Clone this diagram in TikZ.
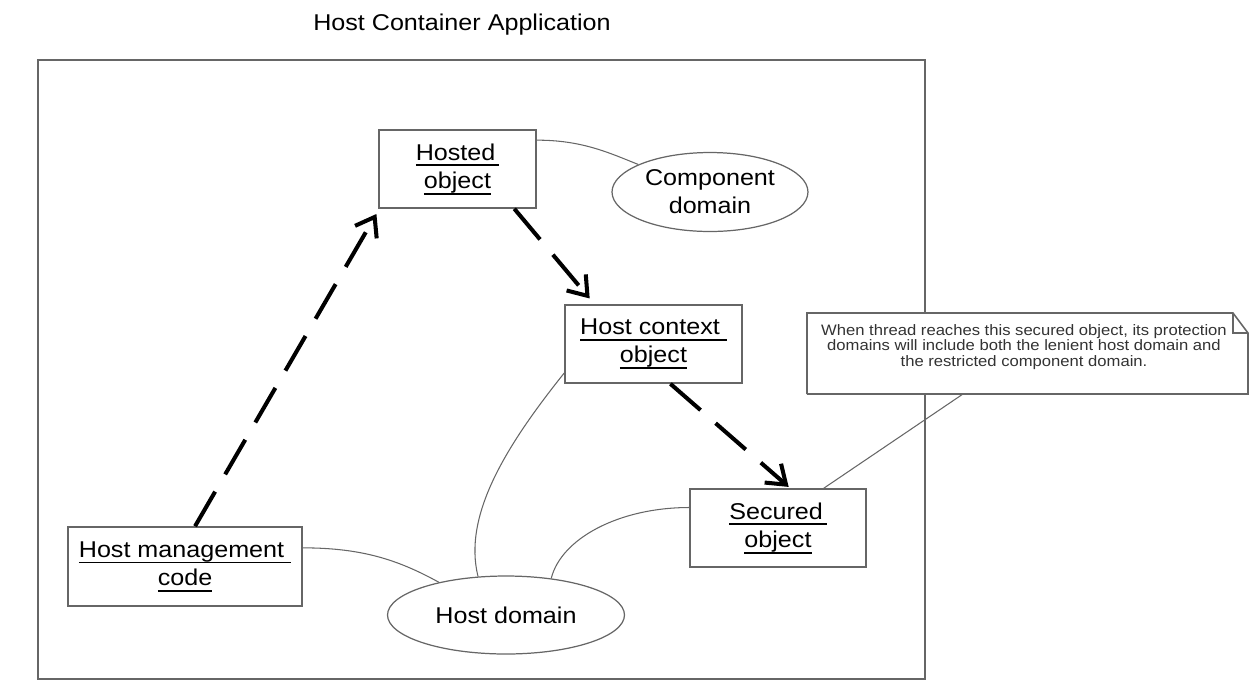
\documentclass[tikz,border=0pt]{standalone}
\usepackage{fontspec}
\setmainfont[FakeStretch=1.1]{Liberation Sans}
\usetikzlibrary{arrows.meta,shapes.geometric,calc}

\definecolor{linegray}{gray}{0.4}
\newsavebox{\ulbox}
\newcommand{\ulined}[1]{\sbox{\ulbox}{#1}\rlap{\rule[-3.6pt]{\wd\ulbox}{1.1pt}}\usebox{\ulbox}}

\tikzset{
  objbox/.style={draw=linegray, line width=0.9pt, fill=white, align=center, inner sep=0pt, font=\fontsize{13}{16}\selectfont},
  domainshape/.style={ellipse, draw=linegray, line width=0.7pt, fill=white, align=center, inner sep=0pt, font=\fontsize{13}{16}\selectfont},
  flow/.style={line width=2.3pt, dash pattern=on 0.8cm off 0.4cm, -{Straight Barb[length=0.35cm,width=0.5cm]}},
  link/.style={draw=linegray, line width=0.6pt}
}

\begin{document}
\begin{tikzpicture}[x=0.02cm,y=-0.02cm]
\useasboundingbox (0,0) rectangle (1249,681);

\node [anchor=base, font=\fontsize{13}{16}\selectfont] (title) at (462,30) {Host Container Application};
\draw[linegray, line width=0.9pt] (38,60) rectangle (925,679);

% objects
\node [objbox, minimum width=3.14cm, minimum height=1.56cm] (hosted) at (457.5,169) {\ulined{Hosted\,}\\\ulined{object}};
\node [objbox, minimum width=3.54cm, minimum height=1.56cm] (context) at (653.5,344) {\ulined{Host context\ }\\\ulined{object}};
\node [objbox, minimum width=4.68cm, minimum height=1.58cm] (mgmt) at (185,566.5) {\ulined{Host management\ }\\\ulined{code}};
\node [objbox, minimum width=3.52cm, minimum height=1.56cm] (secured) at (778,528) {\ulined{Secured\,}\\\ulined{object}};

% domains
\node [domainshape, minimum width=3.92cm, minimum height=1.58cm] (compdom) at (710,192) {Component\\domain};
\node [domainshape, minimum width=4.74cm, minimum height=1.56cm] (hostdom) at (506,615) {Host domain};

% note
\coordinate (nsw) at (807,394);
\coordinate (nne) at (1248,313);
\coordinate (ntail) at (963,394);
\draw[linegray, line width=0.9pt, fill=white] (nsw) |- ($(nne)+(-15,0)$) -- ($(nne)+(0,20)$) |- (nsw);
\draw[linegray, line width=0.6pt] ($(nne)+(-15,0)$) |- ($(nne)+(0,20)$);
\node [align=center, text=black!80, font=\fontsize{8.6}{8.8}\selectfont] (note) at (1024,347)
  {When thread reaches this secured object, its protection\\domains will include both the lenient host domain and\\the restricted component domain.};

% thread of calls
\draw[flow, shorten >=0.12cm] (mgmt.76) -- (hosted.207);
\draw[flow, shorten >=0.15cm] (hosted.-35) -- (context.146);
\draw[flow, shorten >=0.04cm] (context.-67) -- (secured.73);

% domain links
\draw[link] (hosted.20) .. controls +(45,0) and +(-30,-12) .. (compdom.159);
\draw[link] (context.198) .. controls +(-60,75) and +(-15,-60) .. (hostdom.126);
\draw[link] (mgmt.9) .. controls +(60,0) and +(-40,-22) .. (hostdom.154);
\draw[link] (secured.167) .. controls +(-70,0) and +(10,-40) .. (hostdom.39);
\draw[link] (ntail) -- (secured.41);

\end{tikzpicture}
\end{document}
